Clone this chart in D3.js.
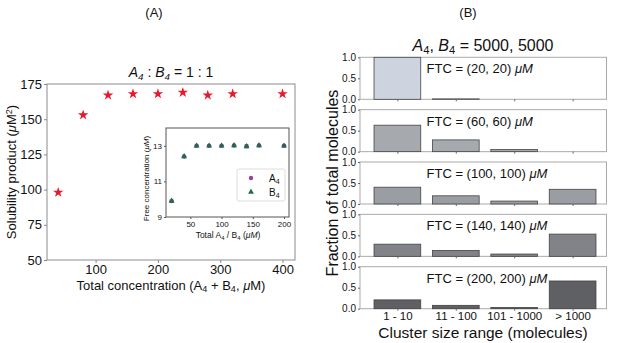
<!DOCTYPE html>
<html>
<head>
<meta charset="utf-8">
<script src="https://cdn.jsdelivr.net/npm/d3@7"></script>
<style>
  body { margin: 0; background: #fff; }
  svg text { font-family: "Liberation Sans", Arial, sans-serif; fill: #111; }
</style>
</head>
<body>
<div id="chart"></div>
<script>
const width = 617;
const height = 343;

// panel A: solubility product
const totalConc = [40, 80, 120, 160, 200, 240, 280, 320, 400];
const solProduct = [98, 153, 167, 168, 168, 169, 167, 168, 168];
const solTicksX = [100, 200, 300, 400];
const solTicksY = [50, 75, 100, 125, 150, 175];

// inset: free concentration
const insetTotal = [20, 40, 60, 80, 100, 120, 140, 160, 200];
const freeA4 = [9.9, 12.4, 13.0, 13.0, 13.0, 13.02, 12.98, 13.02, 13.0];
const freeB4 = [9.9, 12.4, 13.0, 13.0, 13.0, 13.02, 12.96, 13.02, 13.0];
const insetTicksX = [50, 100, 150, 200];
const insetTicksY = [9, 11, 13];

// panel B: cluster size distribution
const clusterRanges = ["1 - 10", "11 - 100", "101 - 1000", "> 1000"];
const ftcLabels = ["(20, 20)", "(60, 60)", "(100, 100)", "(140, 140)", "(200, 200)"];
const fractions = [
  [1.0, 0.01, 0.0, 0.0],
  [0.63, 0.28, 0.05, 0.0],
  [0.40, 0.195, 0.07, 0.35],
  [0.29, 0.14, 0.055, 0.53],
  [0.21, 0.08, 0.03, 0.66]
];
const barColors = ["#cdd4df", "#a6a9ae", "#9a9da2", "#818388", "#5f6064"];

const svg = d3.select("#chart").append("svg")
  .attr("width", width).attr("height", height)
  .attr("viewBox", [0, 0, width, height]);

// text with sub/superscripts: parts = [[str, "sub"|"sup"|null, italic]]
function richText(sel, parts, size) {
  parts.forEach(p => {
    const t = sel.append("tspan").text(p[0]);
    if (p[1] === "sub") t.attr("font-size", size * 0.7).attr("baseline-shift", "-25%");
    if (p[1] === "sup") t.attr("font-size", size * 0.7).attr("baseline-shift", "45%");
    if (p[2]) t.attr("font-style", "italic");
  });
  return sel;
}

function styleAxis(g, color) {
  g.select(".domain").remove();
  g.selectAll(".tick line").attr("stroke", color);
  g.selectAll(".tick text").attr("fill", "#111");
}

// ---------- panel A ----------
const a = { left: 47, right: 295, top: 84, bottom: 260 };
const xA = d3.scaleLinear().domain([22, 420]).range([a.left, a.right]);
const yA = d3.scaleLinear().domain([50, 175]).range([a.bottom, a.top]);

svg.append("text").attr("x", 154).attr("y", 17).attr("text-anchor", "middle")
  .attr("font-size", 13).text("(A)");

svg.append("g").attr("transform", `translate(0,${a.bottom})`)
  .call(d3.axisBottom(xA).tickValues(solTicksX).tickSize(3).tickPadding(2))
  .call(g => styleAxis(g, "#888"))
  .selectAll("text").attr("font-size", 13);
svg.append("g").attr("transform", `translate(${a.left},0)`)
  .call(d3.axisLeft(yA).tickValues(solTicksY).tickSize(3).tickPadding(2))
  .call(g => styleAxis(g, "#888"))
  .selectAll("text").attr("font-size", 13);

svg.append("rect").attr("x", a.left).attr("y", a.top)
  .attr("width", a.right - a.left).attr("height", a.bottom - a.top)
  .attr("fill", "none").attr("stroke", "#8c8c8c").attr("stroke-width", 1);

richText(svg.append("text").attr("x", 171).attr("y", 77).attr("text-anchor", "middle").attr("font-size", 14),
  [["A", null, true], ["4", "sub", true], [" : ", null, false], ["B", null, true], ["4", "sub", true], [" = 1 : 1", null, false]], 14);

richText(svg.append("text").attr("x", 171).attr("y", 290).attr("text-anchor", "middle").attr("font-size", 13),
  [["Total concentration (A", null, false], ["4", "sub", false], [" + B", null, false], ["4", "sub", false], [", ", null, false], ["μ", null, true], ["M)", null, false]], 13);

richText(svg.append("text").attr("transform", `translate(16,${(a.top + a.bottom) / 2}) rotate(-90)`)
  .attr("text-anchor", "middle").attr("font-size", 13),
  [["Solubility product (", null, false], ["μ", null, true], ["M", null, false], ["2", "sup", false], [")", null, false]], 13);

const star = d3.symbol().type(d3.symbolStar).size(34);
svg.append("g").selectAll("path").data(totalConc).join("path")
  .attr("transform", (d, i) => `translate(${xA(d)},${yA(solProduct[i])})`)
  .attr("d", star).attr("fill", "#e8192c");

// ---------- inset ----------
const ins = { left: 166, right: 289, top: 128, bottom: 217 };
const xI = d3.scaleLinear().domain([11, 208]).range([ins.left, ins.right]);
const yI = d3.scaleLinear().domain([9, 14]).range([ins.bottom, ins.top]);

svg.append("rect").attr("x", ins.left).attr("y", ins.top)
  .attr("width", ins.right - ins.left).attr("height", ins.bottom - ins.top)
  .attr("fill", "#fff").attr("stroke", "#555").attr("stroke-width", 1);

svg.append("g").attr("transform", `translate(0,${ins.bottom})`)
  .call(d3.axisBottom(xI).tickValues(insetTicksX).tickFormat(d3.format("d")).tickSize(2).tickPadding(2))
  .call(g => styleAxis(g, "#555"))
  .selectAll("text").attr("font-size", 8);
svg.append("g").attr("transform", `translate(${ins.left},0)`)
  .call(d3.axisLeft(yI).tickValues(insetTicksY).tickFormat(d3.format("d")).tickSize(2).tickPadding(2))
  .call(g => styleAxis(g, "#555"))
  .selectAll("text").attr("font-size", 8);

richText(svg.append("text").attr("x", 228).attr("y", 238).attr("text-anchor", "middle").attr("font-size", 8.5),
  [["Total A", null, false], ["4", "sub", false], [" / B", null, false], ["4", "sub", false], [" (", null, false], ["μM", null, true], [")", null, false]], 8.5);
richText(svg.append("text").attr("transform", `translate(149,${(ins.top + ins.bottom) / 2 + 6}) rotate(-90)`)
  .attr("text-anchor", "middle").attr("font-size", 8),
  [["Free concentration (", null, false], ["μM", null, true], [")", null, false]], 8);

svg.append("g").selectAll("circle").data(insetTotal).join("circle")
  .attr("cx", d => xI(d)).attr("cy", (d, i) => yI(freeA4[i])).attr("r", 2.3)
  .attr("fill", "#9b3f9e");
const tri = d3.symbol().type(d3.symbolTriangle).size(15);
svg.append("g").selectAll("path").data(insetTotal).join("path")
  .attr("transform", (d, i) => `translate(${xI(d)},${yI(freeB4[i])})`)
  .attr("d", tri).attr("fill", "#1e6b4f");

// legend
svg.append("rect").attr("x", 237).attr("y", 169).attr("width", 48).attr("height", 32)
  .attr("rx", 2).attr("fill", "#fff").attr("stroke", "#ddd");
svg.append("circle").attr("cx", 251).attr("cy", 178).attr("r", 2.2).attr("fill", "#9b3f9e");
svg.append("path").attr("transform", "translate(251,192)").attr("d", tri).attr("fill", "#1e6b4f");
richText(svg.append("text").attr("x", 269).attr("y", 182).attr("font-size", 10), [["A", null, false], ["4", "sub", false]], 10);
richText(svg.append("text").attr("x", 269).attr("y", 196).attr("font-size", 10), [["B", null, false], ["4", "sub", false]], 10);

// ---------- panel B ----------
const b = { left: 360, right: 606.5, top0: 57.3, pitch: 52.35, h: 42 };
const xB = d3.scaleLinear().domain([-0.64, 3.58]).range([b.left, b.right]);

svg.append("text").attr("x", 468).attr("y", 17).attr("text-anchor", "middle")
  .attr("font-size", 13).text("(B)");
richText(svg.append("text").attr("x", 483).attr("y", 51).attr("text-anchor", "middle").attr("font-size", 16),
  [["A", null, true], ["4", "sub", false], [", ", null, false], ["B", null, true], ["4", "sub", false], [" = 5000, 5000", null, false]], 16);

fractions.forEach((vals, k) => {
  const top = b.top0 + k * b.pitch;
  const yB = d3.scaleLinear().domain([0, 1]).range([top + b.h, top]);
  const g = svg.append("g");

  g.append("rect").attr("x", b.left).attr("y", top)
    .attr("width", b.right - b.left).attr("height", b.h)
    .attr("fill", "#fff").attr("stroke", "#aaa").attr("stroke-width", 1);

  g.selectAll("rect.bar").data(vals).join("rect").attr("class", "bar")
    .attr("x", (d, i) => xB(i - 0.4)).attr("width", xB(0.4) - xB(-0.4))
    .attr("y", d => yB(d)).attr("height", d => yB(0) - yB(d))
    .attr("fill", barColors[k]).attr("stroke", "#444").attr("stroke-width", 0.8);

  g.append("g").attr("transform", `translate(${b.left},0)`)
    .call(d3.axisLeft(yB).tickValues([0, 0.5, 1]).tickFormat(d3.format(".1f")).tickSize(2).tickPadding(2))
    .call(ax => styleAxis(ax, "#666"))
    .selectAll("text").attr("font-size", 10);

  const xAxis = g.append("g").attr("transform", `translate(0,${top + b.h})`)
    .call(d3.axisBottom(xB).tickValues([0, 1, 2, 3]).tickSize(2).tickPadding(1)
      .tickFormat(i => k === fractions.length - 1 ? clusterRanges[i] : ""))
    .call(ax => styleAxis(ax, "#666"));
  xAxis.selectAll("text").attr("font-size", 11.5);

  richText(g.append("text").attr("x", 426.5).attr("y", top + 16).attr("font-size", 13),
    [["FTC = " + ftcLabels[k] + " ", null, false], ["μM", null, true]], 13);
});

svg.append("text").attr("x", 483).attr("y", 338).attr("text-anchor", "middle")
  .attr("font-size", 15.5).text("Cluster size range (molecules)");
svg.append("text").attr("transform", `translate(338,183) rotate(-90)`)
  .attr("text-anchor", "middle").attr("font-size", 16).text("Fraction of total molecules");
</script>
</body>
</html>
